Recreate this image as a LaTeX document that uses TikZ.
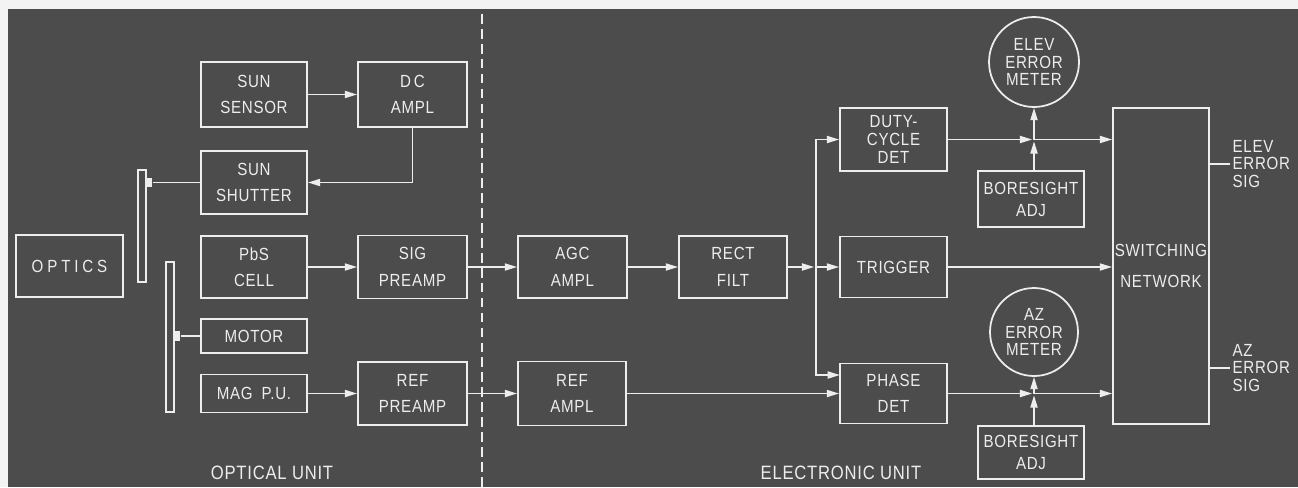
\documentclass[tikz,border=0pt]{standalone}
\usepackage{fontspec}
\setmainfont{Liberation Sans}[FakeStretch=0.86,LetterSpace=4]
\usetikzlibrary{arrows.meta}
\definecolor{board}{HTML}{4C4C4C}
\definecolor{chalk}{HTML}{EDEDED}
\definecolor{paper}{HTML}{F3F3F3}
\begin{document}
\begin{tikzpicture}[x=0.02cm,y=-0.02cm,line width=1pt,draw=chalk,
  >={Triangle[length=7pt,width=4pt]},
  box/.style={draw=chalk,text=chalk,inner sep=0pt,align=center,font=\fontsize{10}{15}\selectfont},
  tight/.style={font=\fontsize{10}{10.2}\selectfont},
  meter/.style={box,tight,circle,minimum size=1.8cm},
  bar/.style={draw=chalk,line width=0.8pt,inner sep=0pt,minimum width=0.16cm},
  knob/.style={fill=chalk,draw=none,inner sep=0pt,minimum width=0.12cm,minimum height=0.19cm},
  tag/.style={text=chalk,align=left,inner sep=1pt,font=\fontsize{10}{10.2}\selectfont},
  unit/.style={text=chalk,font=\fontsize{11}{11}\selectfont}]
% board
\fill[paper] (0,0) rectangle (1298,487);
\fill[board] (8,9) rectangle (1298,487);
\draw[chalk,line width=0.7pt,dash pattern=on 5.5pt off 3pt] (482,14) -- (482,487);
% optical unit
\node[box,minimum width=2.14cm,minimum height=1.24cm] (optics) at (69.5,266) {{\addfontfeature{LetterSpace=22}OPTICS}};
\node[bar,minimum height=2.24cm] (shbar) at (142,226) {};
\node[knob] (shknob) at (149,182.5) {};
\node[bar,minimum height=3cm] (motbar) at (170,337) {};
\node[knob] (motknob) at (177,336) {};
\node[box,minimum width=2.12cm,minimum height=1.3cm] (sensor) at (254,94.5) {SUN\\SENSOR};
\node[box,minimum width=2.18cm,minimum height=1.3cm] (dcampl) at (412.5,94.5) {D\,C\\AMPL};
\node[box,minimum width=2.12cm,minimum height=1.26cm] (shutter) at (254,182.5) {SUN\\SHUTTER};
\node[box,minimum width=2.12cm,minimum height=1.24cm] (pbs) at (254,267) {PbS\\CELL};
\node[box,minimum width=2.18cm,minimum height=1.26cm] (sigpre) at (412.5,267) {SIG\\PREAMP};
\node[box,minimum width=2.12cm,minimum height=0.68cm] (motor) at (254,336) {MOTOR};
\node[box,minimum width=2.12cm,minimum height=0.76cm] (magpu) at (254,393.5) {MAG\enspace P.U.};
\node[box,minimum width=2.18cm,minimum height=1.26cm] (refpre) at (412.5,393.5) {REF\\PREAMP};
\node[unit] (optunit) at (272,473) {OPTICAL UNIT};
% electronic unit
\node[box,minimum width=2.18cm,minimum height=1.24cm] (agc) at (572.5,267) {AGC\\AMPL};
\node[box,minimum width=2.16cm,minimum height=1.24cm] (rect) at (733,267) {RECT\\FILT};
\node[box,minimum width=2.16cm,minimum height=1.28cm] (refamp) at (572,393.5) {REF\\AMPL};
\node[box,tight,minimum width=2.14cm,minimum height=1.26cm] (duty) at (893.5,139.5) {DUTY-\\CYCLE\\DET};
\node[box,minimum width=2.14cm,minimum height=1.22cm] (trigger) at (893.5,267) {TRIGGER};
\node[box,minimum width=2.14cm,minimum height=1.2cm] (phase) at (893.5,393.5) {PHASE\\DET};
\node[meter] (elev) at (1034,62) {ELEV\\ERROR\\METER};
\node[box,font=\fontsize{10}{12.5}\selectfont,minimum width=2.12cm,minimum height=1.12cm] (bsu) at (1031,199) {BORESIGHT\\ADJ};
\node[meter,minimum size=1.76cm] (az) at (1034,332) {AZ\\ERROR\\METER};
\node[box,font=\fontsize{10}{12.5}\selectfont,minimum width=2.12cm,minimum height=1.06cm] (bsl) at (1031,452.5) {BORESIGHT\\ADJ};
\node[box,font=\fontsize{10}{17.5}\selectfont,minimum width=1.92cm,minimum height=6.32cm] (switch) at (1161,266) {SWITCHING\\NETWORK};
\node[unit] (elecunit) at (841,473) {ELECTRONIC UNIT};
\coordinate (split) at (816,267);
\coordinate (phin) at (840,375);
\coordinate (ej) at (1034,139.5);
\coordinate (aj) at (1034,393.5);
\coordinate (elevout) at (1230,164);
\coordinate (azout) at (1230,368);
\node[tag,anchor=west] (elevsig) at (elevout) {ELEV\\ERROR\\SIG};
\node[tag,anchor=west] (azsig) at (azout) {AZ\\ERROR\\SIG};
% connectors
\draw[->] (sensor.east) -- (dcampl.west);
\draw[->] (dcampl.south) |- (shutter.east);
\draw (shutter.west) -- (shknob.east);
\draw[->] (pbs.east) -- (sigpre.west);
\draw (motor.west) -- (motknob.east);
\draw[->] (magpu.east) -- (refpre.west);
\draw[->] (sigpre.east) -- (agc.west);
\draw[->] (refpre.east) -- (refamp.west);
\draw[->] (agc.east) -- (rect.west);
\draw[->,shorten >=1pt] (rect.east) -- (split);
\draw[->] (split) -- (trigger.west);
\draw[->] (split) |- (duty.west);
\draw[->] (split) |- (phin);
\draw[->] (refamp.east) -- (phase.west);
\draw[->,shorten >=1pt] (duty.east) -- (ej);
\draw[->] (ej) -- (switch.west |- ej);
\draw[->,shorten >=1pt] (bsu.north -| ej) -- (ej);
\draw[->] (ej) -- (elev.south);
\draw[->] (trigger.east) -- (trigger.east -| switch.west);
\draw[->,shorten >=1pt] (phase.east) -- (aj);
\draw[->] (aj) -- (switch.west |- aj);
\draw[->,shorten >=1pt] (bsl.north -| aj) -- (aj);
\draw[->] (aj) -- (az.south);
\draw (switch.east |- elevout) -- (elevout);
\draw (switch.east |- azout) -- (azout);
\end{tikzpicture}
\end{document}
